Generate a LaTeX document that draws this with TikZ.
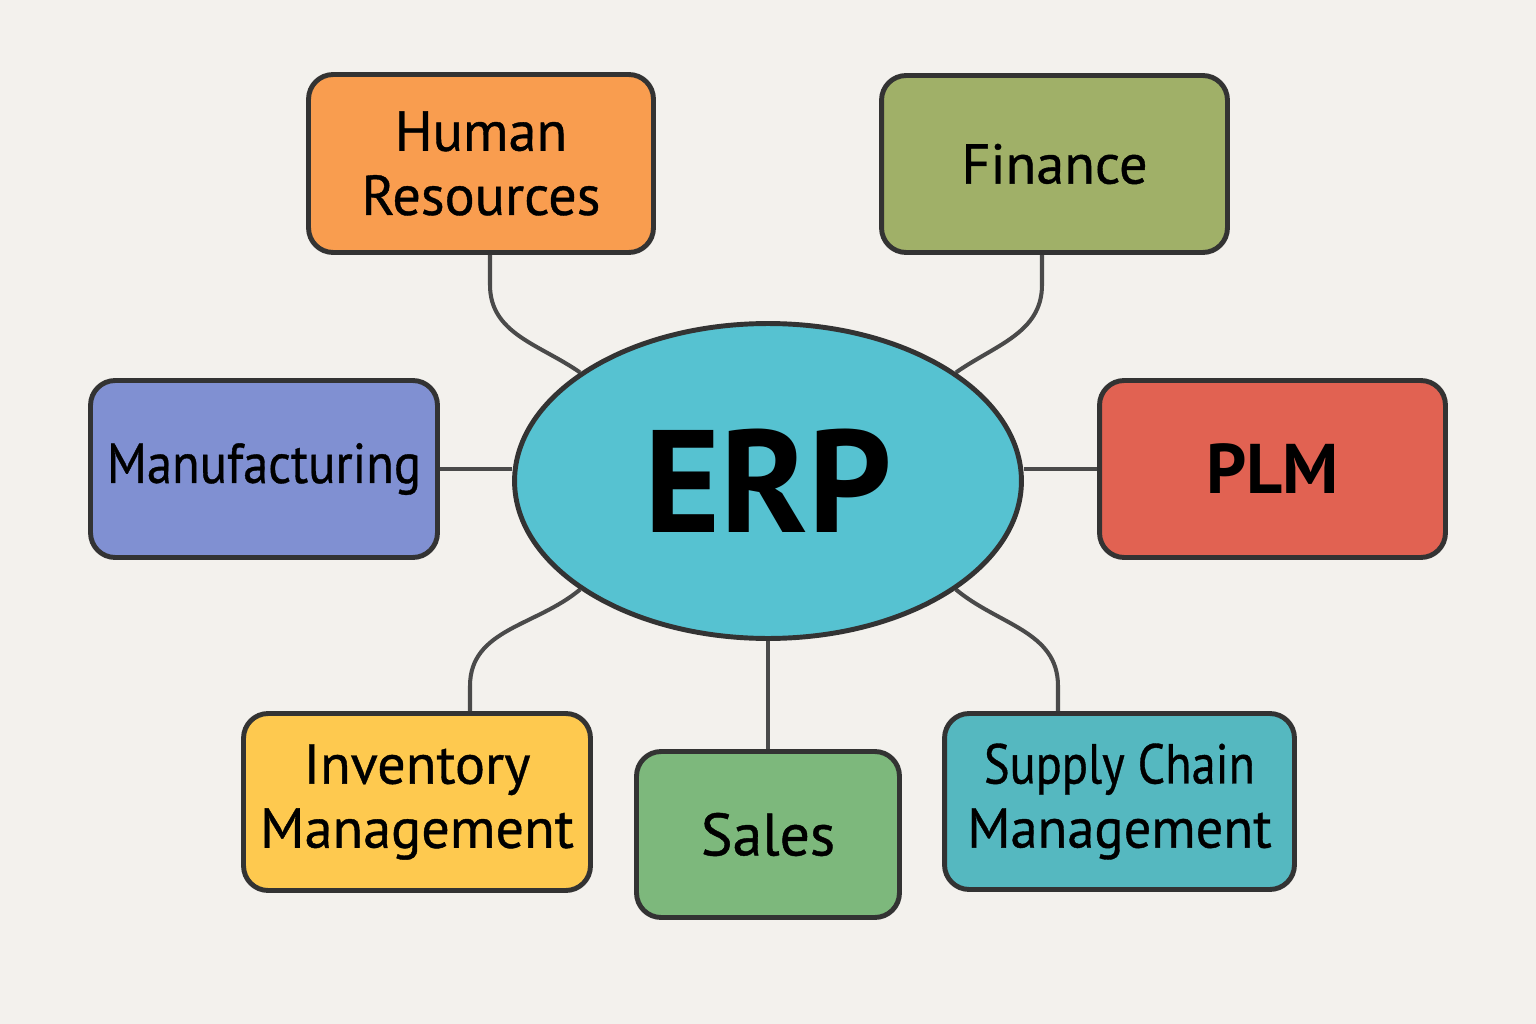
\documentclass[tikz,border=0pt]{standalone}
\usepackage{fontspec}
\setmainfont{PT Sans}
\newfontfamily\medfont[FakeBold=0.7]{PT Sans}
\usetikzlibrary{shapes.geometric,calc}
\pgfdeclarelayer{bg}
\pgfdeclarelayer{edges}
\pgfsetlayers{bg,edges,main}
\definecolor{bgc}{HTML}{F3F1ED}
\definecolor{hrc}{HTML}{F99D4F}
\definecolor{finc}{HTML}{A0B068}
\definecolor{manc}{HTML}{8090D2}
\definecolor{plmc}{HTML}{E16252}
\definecolor{invc}{HTML}{FEC94F}
\definecolor{salc}{HTML}{7DB87C}
\definecolor{scmc}{HTML}{55B8C0}
\definecolor{erpc}{HTML}{56C2D1}
\definecolor{bordc}{HTML}{333333}
\definecolor{linec}{HTML}{4A4A4A}
\tikzset{
  box/.style={draw=bordc, line width=2.8pt, rounded corners=14pt, align=center,
    inner sep=0pt, font=\medfont\fontsize{32}{36.5}\selectfont},
  conn/.style={draw=linec, line width=2.3pt}
}
\begin{document}
\begin{tikzpicture}[x=0.02cm,y=0.02cm]
\begin{pgfonlayer}{bg}
\fill[bgc] (0,0) rectangle (1536,-1024);
\end{pgfonlayer}
\useasboundingbox (0,0) rectangle (1536,-1024);

\node[ellipse, draw=bordc, line width=2.8pt, fill=erpc, minimum width=10.14cm, minimum height=6.3cm, inner sep=0pt,
  font=\fontsize{83}{90}\selectfont\bfseries] (erp) at (768,-481) {ERP};

\node[box, fill=hrc, minimum width=6.9cm, minimum height=3.56cm] (hr) at (481,-163.5) {Human\\Resources};
\node[box, fill=finc, minimum width=6.92cm, minimum height=3.54cm] (fin) at (1054.5,-164) {Finance};
\node[box, fill=manc, minimum width=6.94cm, minimum height=3.54cm] (man) at (264,-469) {\scalebox{0.9}[1]{Manufacturing}};
\node[box, fill=plmc, minimum width=6.92cm, minimum height=3.54cm, font=\fontsize{40}{42}\selectfont\bfseries] (plm) at (1272.5,-469) {PLM};
\node[box, fill=invc, minimum width=6.94cm, minimum height=3.54cm] (inv) at (417,-802) {Inventory\\Management};
\node[box, fill=salc, minimum width=5.26cm, minimum height=3.32cm, font=\medfont\fontsize{34}{38}\selectfont] (sal) at (768,-834.5) {Sales};
\node[box, fill=scmc, minimum width=7.0cm, minimum height=3.52cm] (scm) at (1119.5,-801.5) {\scalebox{0.86}[1]{Supply Chain}\\\scalebox{0.97}[1]{Management}};

\begin{pgfonlayer}{edges}
\draw[conn] ($(hr.south)+(9,0)$) -- ++(0,-30) to[out=-90,in=145] (erp.150);
\draw[conn] ($(fin.south)+(-12.5,0)$) -- ++(0,-30) to[out=-90,in=35] (erp.30);
\draw[conn] ($(inv.north)+(53,0)$) -- ++(0,25) to[out=90,in=-140] (erp.210);
\draw[conn] ($(scm.north)+(-61.5,0)$) -- ++(0,25) to[out=90,in=-40] (erp.330);
\draw[conn] (man.east) -- (man.east -| erp.west);
\draw[conn] (plm.west) -- (plm.west -| erp.east);
\draw[conn] (erp.south) -- (sal.north);
\end{pgfonlayer}
\end{tikzpicture}
\end{document}
